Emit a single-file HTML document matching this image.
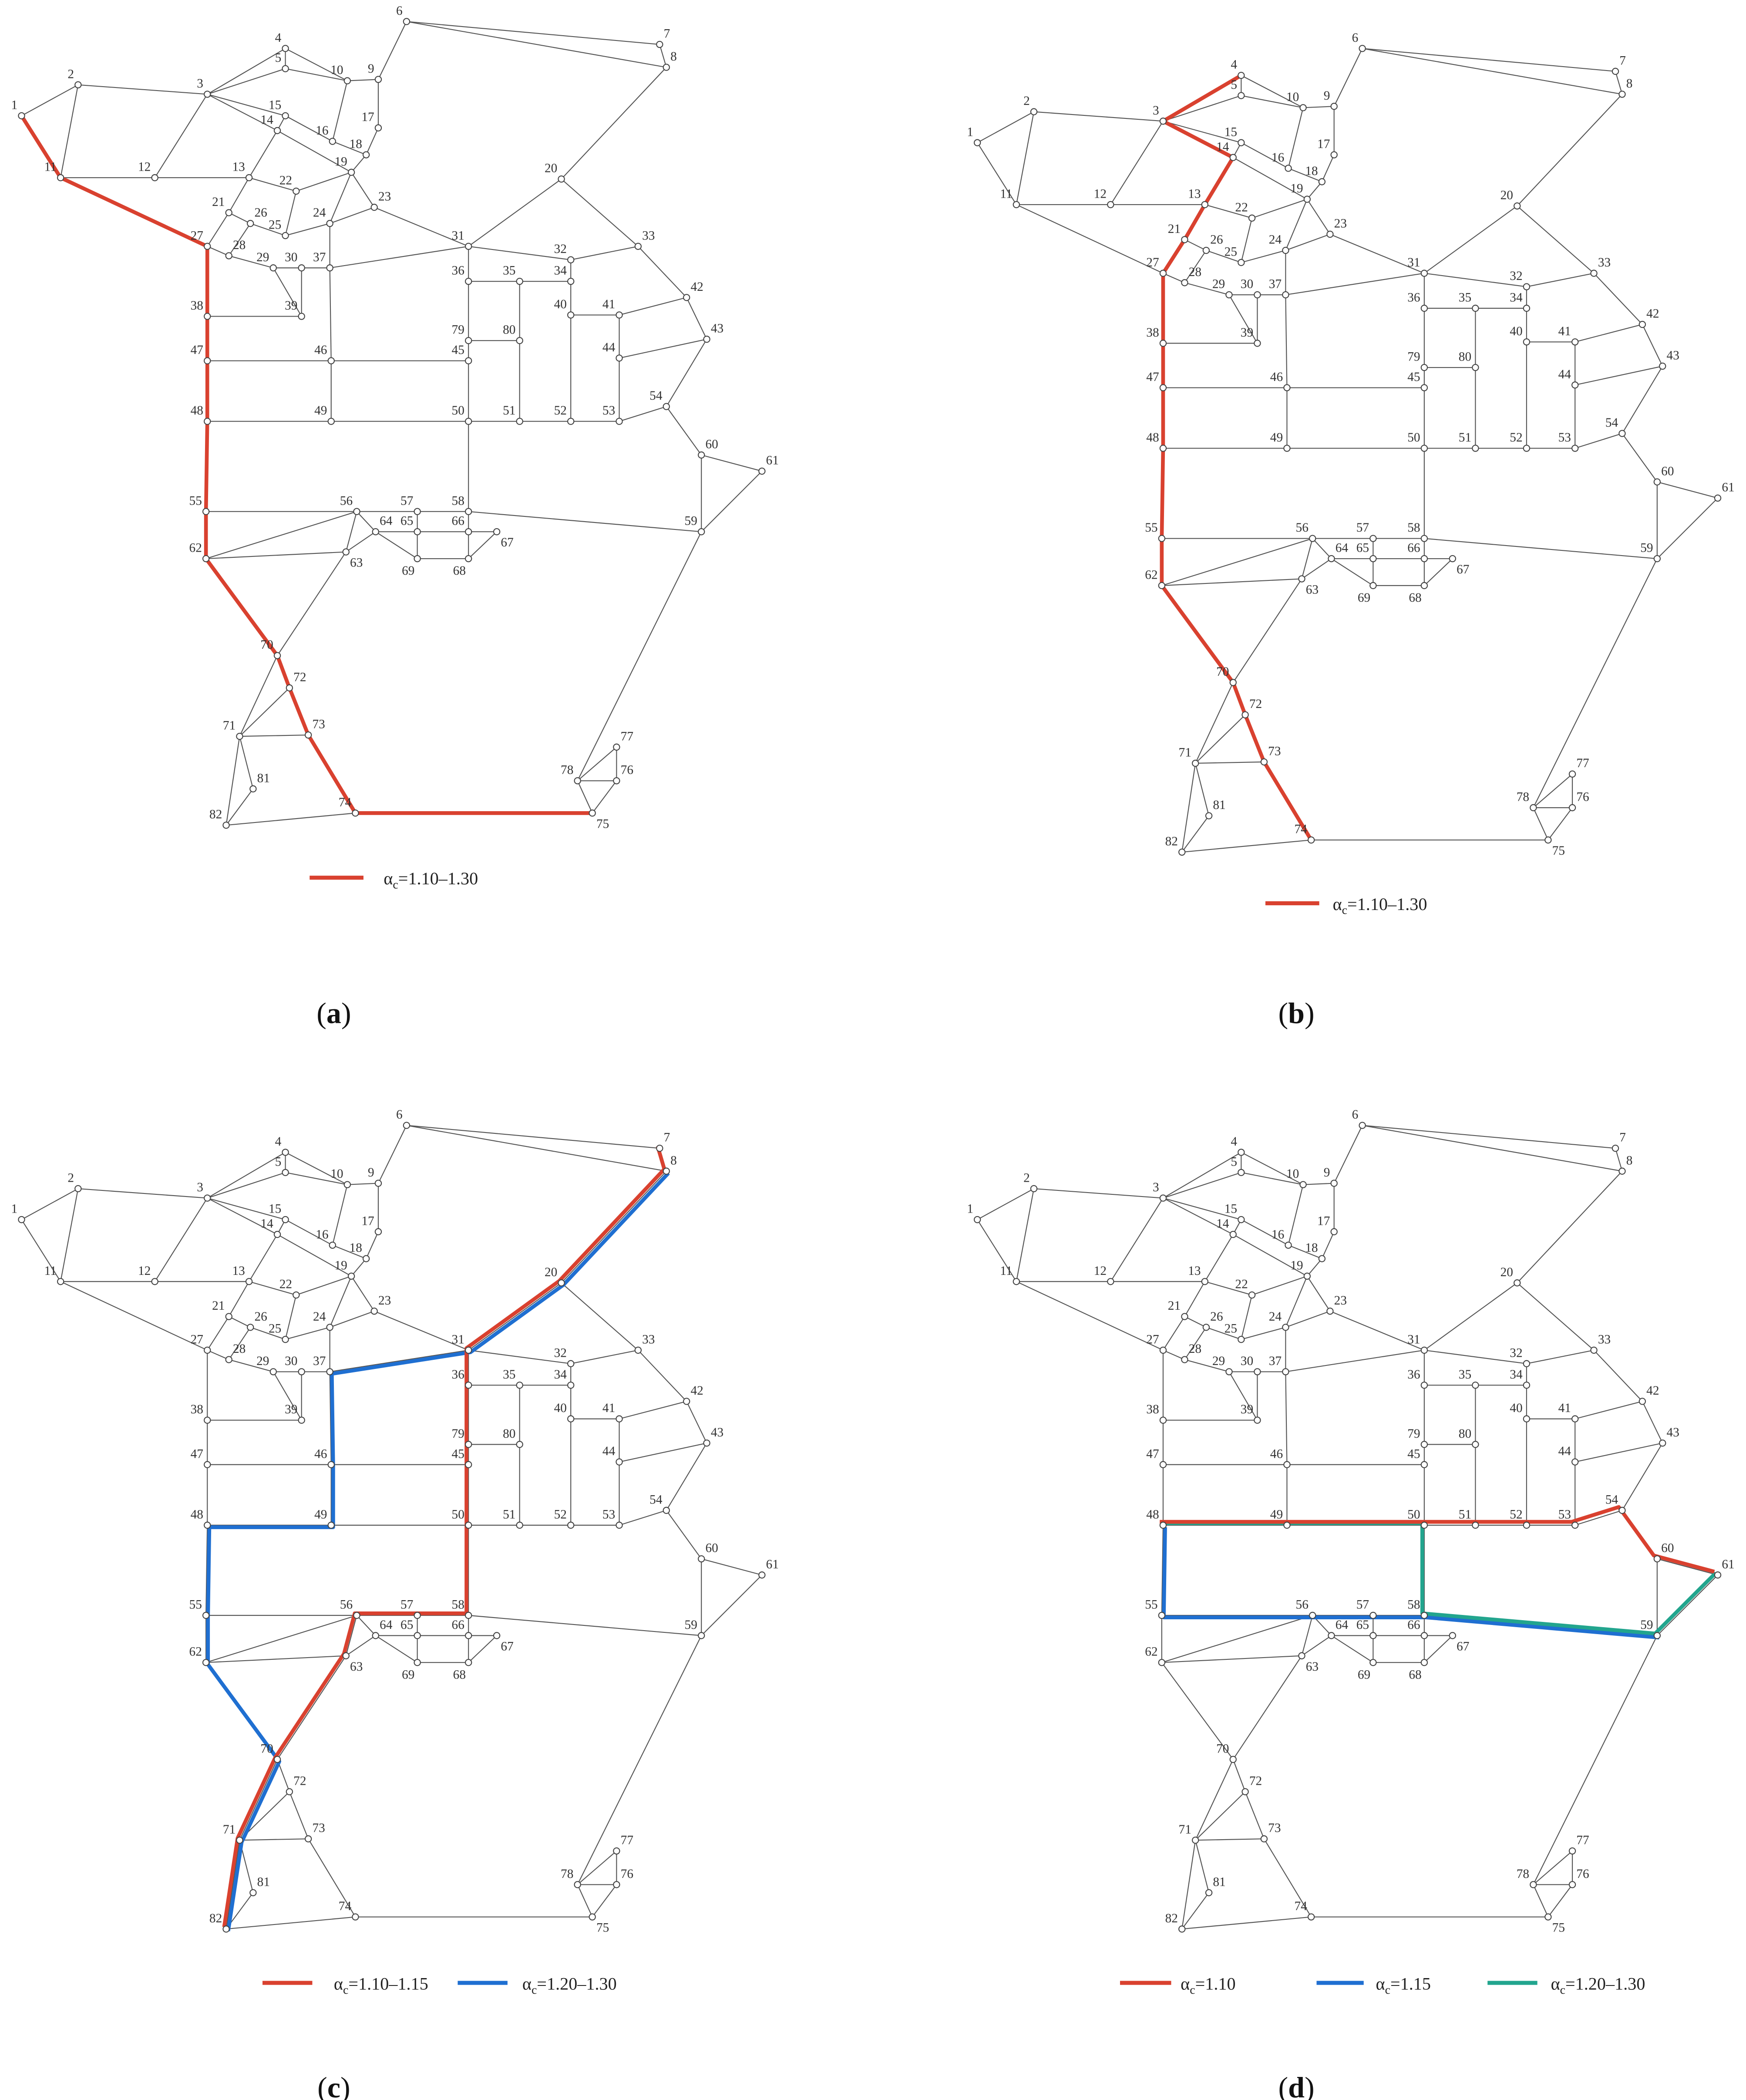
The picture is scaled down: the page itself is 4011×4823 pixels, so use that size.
<!DOCTYPE html>
<html><head><meta charset="utf-8"><style>
html,body{margin:0;padding:0;background:#fff;}
svg{display:block;}
</style></head><body>
<svg id="s" xmlns="http://www.w3.org/2000/svg" width="4011" height="4823" viewBox="0 0 1297 1560" preserveAspectRatio="none" font-family="Liberation Serif, serif">
<rect width="1297" height="1560" fill="#fff"/>
<g id="g"></g>
<g font-size="13" fill="#222">
<line x1="230" y1="652" x2="270" y2="652" stroke="#d9412f" stroke-width="3"/>
<text x="285" y="657">α<tspan font-size="9" dy="3">c</tspan><tspan dy="-3">=1.10–1.30</tspan></text>
<line x1="940" y1="671" x2="980" y2="671" stroke="#d9412f" stroke-width="3"/>
<text x="990" y="676">α<tspan font-size="9" dy="3">c</tspan><tspan dy="-3">=1.10–1.30</tspan></text>
<line x1="195" y1="1473" x2="232" y2="1473" stroke="#d9412f" stroke-width="3"/>
<text x="248" y="1478">α<tspan font-size="9" dy="3">c</tspan><tspan dy="-3">=1.10–1.15</tspan></text>
<line x1="340" y1="1473" x2="377" y2="1473" stroke="#1f6fd1" stroke-width="3"/>
<text x="388" y="1478">α<tspan font-size="9" dy="3">c</tspan><tspan dy="-3">=1.20–1.30</tspan></text>
<line x1="832" y1="1473" x2="870" y2="1473" stroke="#d9412f" stroke-width="3"/>
<text x="877" y="1478">α<tspan font-size="9" dy="3">c</tspan><tspan dy="-3">=1.10</tspan></text>
<line x1="978" y1="1473" x2="1013" y2="1473" stroke="#1f6fd1" stroke-width="3"/>
<text x="1022" y="1478">α<tspan font-size="9" dy="3">c</tspan><tspan dy="-3">=1.15</tspan></text>
<line x1="1105" y1="1473" x2="1142" y2="1473" stroke="#22a58e" stroke-width="3"/>
<text x="1152" y="1478">α<tspan font-size="9" dy="3">c</tspan><tspan dy="-3">=1.20–1.30</tspan></text>
</g>
<g font-size="22" fill="#111" text-anchor="middle">
<text x="248" y="760">(<tspan font-weight="bold">a</tspan>)</text>
<text x="963" y="760">(<tspan font-weight="bold">b</tspan>)</text>
<text x="248" y="1558">(<tspan font-weight="bold">c</tspan>)</text>
<text x="963" y="1558">(<tspan font-weight="bold">d</tspan>)</text>
</g>
</svg>
<script>
var N={1:[16,86],2:[58,63],3:[154,70],4:[212,36],5:[212,51],6:[302,16],7:[490,33],8:[495,50],9:[281,59],10:[258,60],
11:[45,132],12:[115,132],13:[185,132],14:[206,97],15:[212,86],16:[247,105],17:[281,95],18:[272,115],19:[261,128],20:[417,133],
21:[170,158],22:[220,142],23:[278,154],24:[245,166],25:[212,175],26:[186,166],27:[154,183],28:[170,190],29:[203,199],30:[224,199],
31:[348,183],32:[424,193],33:[474,183],34:[424,209],35:[386,209],36:[348,209],37:[245,199],38:[154,235],39:[224,235],40:[424,234],
41:[460,234],42:[510,221],43:[525,252],44:[460,266],45:[348,268],46:[246,268],47:[154,268],48:[154,313],49:[246,313],50:[348,313],
51:[386,313],52:[424,313],53:[460,313],54:[495,302],55:[153,380],56:[265,380],57:[310,380],58:[348,380],59:[521,395],60:[521,338],
61:[566,350],62:[153,415],63:[257,410],64:[279,395],65:[310,395],66:[348,395],67:[369,395],68:[348,415],69:[310,415],70:[206,487],
71:[178,547],72:[215,511],73:[229,546],74:[264,604],75:[440,604],76:[458,580],77:[458,555],78:[429,580],79:[348,253],80:[386,253],
81:[188,586],82:[168,613]};
var E="1-2 1-11 2-11 2-3 3-4 3-5 3-12 3-15 3-14 4-5 4-10 5-10 10-9 9-6 9-17 10-16 15-16 16-18 17-18 18-19 14-19 15-14 14-13 13-21 21-27 19-22 13-22 19-24 19-23 23-24 24-25 22-25 25-26 21-26 26-28 27-28 28-29 29-30 30-37 37-31 23-31 20-31 20-8 20-33 6-7 6-8 7-8 11-12 12-13 11-27 24-37 31-32 32-33 31-36 36-35 35-34 32-34 33-42 29-39 30-39 38-39 27-38 38-47 47-48 48-55 55-62 47-46 46-45 37-46 46-49 48-49 49-50 50-51 51-52 52-53 53-54 54-60 60-61 36-79 79-45 45-50 50-58 79-80 35-80 80-51 34-40 40-52 40-41 41-42 41-44 44-43 42-43 43-54 44-53 55-56 56-57 57-58 58-59 56-62 62-63 56-63 56-64 63-64 64-65 65-66 66-67 64-69 57-65 65-69 58-66 66-68 67-68 69-68 62-70 63-70 70-71 70-72 71-72 72-73 71-73 73-74 71-82 71-81 81-82 82-74 74-75 59-78 78-75 78-76 78-77 77-76 76-75 59-60 59-61".split(" ").map(function(s){return s.split("-").map(Number);});
var RT={7:1,8:1,23:1,26:1,28:1,33:1,42:1,43:1,60:1,61:1,64:1,72:1,73:1,77:1,81:1,76:1};
var BR={67:1,63:1,75:1};
var BL={68:1,69:1};
var R="#d9412f",B="#1f6fd1",T="#22a58e";
var P=[
 {dx:0,dy:0,paths:[[R,[1,11,27,38,47,48,55,62,70,72,73,74,75],0]]},
 {dx:710,dy:20,paths:[[R,[4,3,14,13,21,27,38,47,48,55,62,70,72,73,74],0]]},
 {dx:0,dy:820,paths:[[B,[8,20,31,37,46,49,48,55,62,70,71,82],1.5],[R,[7,8,20,31,36,79,45,50,58,57,56,63,70,71,82],-1.5]]},
 {dx:710,dy:820,paths:[[B,[48,55,58,59],1.5],[T,[48,50,58,59,61],-1.5],[R,[48,49,50,51,52,53,54,60,61],-2.5]]}
];
var h="";
P.forEach(function(p){
 function X(i){return N[i][0]+p.dx} function Y(i){return N[i][1]+p.dy}
 E.forEach(function(e){h+='<line x1="'+X(e[0])+'" y1="'+Y(e[0])+'" x2="'+X(e[1])+'" y2="'+Y(e[1])+'" stroke="#555" stroke-width="0.7"/>';});
 p.paths.forEach(function(q){var pts=q[1].map(function(i){return (X(i)+q[2])+','+(Y(i)+q[2])}).join(' ');
  h+='<polyline points="'+pts+'" fill="none" stroke="'+q[0]+'" stroke-width="2.8" stroke-linejoin="round"/>';});
 for(var k in N){var x=X(k),y=Y(k),tx,ty,an;
  if(RT[k]){tx=x+3;ty=y-5;an="start";}
  else if(BR[k]){tx=x+3;ty=y+11;an="start";}
  else if(BL[k]){tx=x-2;ty=y+12;an="end";}
  else {tx=x-3;ty=y-5;an="end";}
  h+='<circle cx="'+x+'" cy="'+y+'" r="2.3" fill="#fff" stroke="#444" stroke-width="0.7"/>';
  h+='<text x="'+tx+'" y="'+ty+'" font-size="9.5" fill="#333" text-anchor="'+an+'">'+k+'</text>';}
});
document.getElementById("g").innerHTML=h;
</script>
</body></html>
